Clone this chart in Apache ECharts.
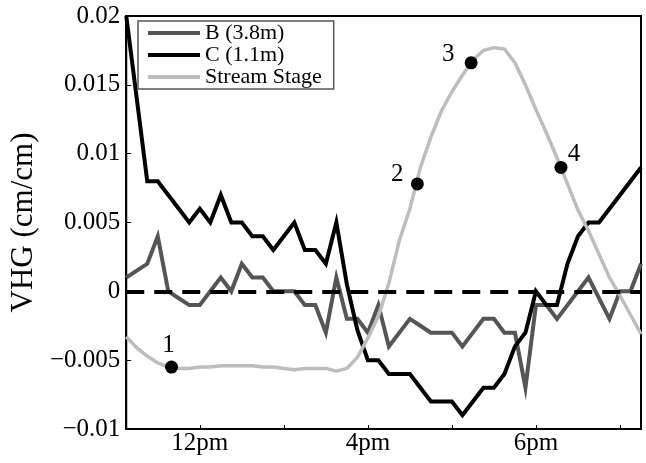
<!DOCTYPE html>
<html>
<head>
<meta charset="utf-8">
<script src="https://cdn.jsdelivr.net/npm/echarts@6/dist/echarts.min.js"></script>
<style>
  html, body { margin: 0; padding: 0; background: #ffffff; }
  #chart { width: 646px; height: 463px; }
</style>
</head>
<body>
<div id="chart"></div>
<script>
// Sample index: one reading every 15 minutes
const sampleIndex = Array.from({ length: 50 }, (_, i) => i);

// Vertical hydraulic gradient, piezometer B (3.8 m)
const vhgB = [
  0.001, 0.0015, 0.002, 0.004, 0, -0.0005, -0.001, -0.001, 0, 0.001,
  0, 0.002, 0.001, 0.001, 0, 0, 0, -0.001, -0.001, -0.003,
  0.001, -0.002, -0.002, -0.003, -0.001, -0.004, -0.003, -0.002, -0.0025, -0.003,
  -0.003, -0.003, -0.004, -0.003, -0.002, -0.002, -0.003, -0.003, -0.007, -0.001,
  -0.001, -0.002, -0.001, 0, 0.001, -0.0005, -0.002, 0, 0, 0.002
];

// Vertical hydraulic gradient, piezometer C (1.1 m)
const vhgC = [
  0.02, 0.014, 0.008, 0.008, 0.007, 0.006, 0.005, 0.006, 0.005, 0.007,
  0.005, 0.005, 0.004, 0.004, 0.003, 0.004, 0.005, 0.003, 0.003, 0.002,
  0.005, 0.0005, -0.0028, -0.005, -0.005, -0.006, -0.006, -0.006, -0.007, -0.008,
  -0.008, -0.008, -0.009, -0.008, -0.007, -0.007, -0.006, -0.004, -0.003, 0,
  -0.001, -0.001, 0.002, 0.004, 0.005, 0.005, 0.006, 0.007, 0.008, 0.009
];

// Stream stage, plotted on the same scale
const streamStage = [
  -0.0033, -0.0041, -0.0047, -0.0052, -0.0055, -0.0056, -0.0056, -0.0055, -0.0055, -0.0054,
  -0.0054, -0.0054, -0.0054, -0.0055, -0.0055, -0.0056, -0.0057, -0.0056, -0.0056, -0.0056,
  -0.0058, -0.0056, -0.0048, -0.0034, -0.0018, 0.0006, 0.0037, 0.0060, 0.0090, 0.0112,
  0.0131, 0.0145, 0.0157, 0.0168, 0.0175, 0.0177, 0.0176, 0.0166, 0.0150, 0.0132,
  0.0115, 0.0097, 0.0078, 0.0059, 0.0044, 0.0027, 0.0010, -0.0003, -0.0017, -0.0031
];

// Numbered sampling moments on the stage curve
const markerIndex = [4.31, 27.71, 32.83, 41.38];
const markerValue = [-0.0055, 0.0078, 0.0166, 0.0090];
const markerLabels = ['1', '2', '3', '4'];

// Axis ticks
const xTickPos = [7, 15, 23, 31, 39, 47];
const xTickLabels = ['12pm', '', '4pm', '', '6pm', ''];
const yTickValues = [-0.01, -0.005, 0, 0.005, 0.01, 0.015, 0.02];
const yTickLabels = ['\u22120.01', '\u22120.005', '0', '0.005', '0.01', '0.015', '0.02'];
const zeroLevel = 0;

const seriesNames = ['B (3.8m)', 'C (1.1m)', 'Stream Stage'];

// label placement around each marker: [dx, dy]
const labelOffsets = [[-3, -22], [-20, -10], [-23, -8], [13, -13]];

const FONT = 'Liberation Serif';

function pairs(ys) {
  return ys.map((y, i) => [sampleIndex[i], y]);
}

const chart = echarts.init(document.getElementById('chart'), null, { renderer: 'canvas' });

const option = {
  backgroundColor: '#ffffff',
  animation: false,
  textStyle: { fontFamily: FONT },
  grid: {
    left: 121, right: 5, top: 16, bottom: 34,
    show: true, borderColor: '#000', borderWidth: 2, backgroundColor: 'transparent'
  },
  legend: {
    data: seriesNames,
    orient: 'vertical',
    left: 138, top: 21,
    icon: 'rect',
    itemWidth: 52, itemHeight: 4,
    itemGap: 0,
    padding: [1, 12, 1, 10],
    borderColor: '#555',
    borderWidth: 1.5,
    backgroundColor: '#fff',
    textStyle: { fontFamily: FONT, fontSize: 22, color: '#000', lineHeight: 22 }
  },
  xAxis: {
    type: 'value',
    min: 0,
    max: sampleIndex[sampleIndex.length - 1],
    splitLine: { show: false },
    axisLine: { show: true, onZero: false, lineStyle: { color: '#000', width: 2 } },
    axisTick: {
      show: true, inside: true, length: 4,
      customValues: xTickPos,
      lineStyle: { color: '#000', width: 1 }
    },
    axisLabel: {
      customValues: xTickPos.filter((_, i) => xTickLabels[i] !== ''),
      formatter: v => xTickLabels[xTickPos.indexOf(v)] || '',
      fontFamily: FONT, fontSize: 25, color: '#000', margin: 2
    }
  },
  yAxis: {
    type: 'value',
    min: yTickValues[0],
    max: yTickValues[yTickValues.length - 1],
    interval: 0.005,
    name: 'VHG (cm/cm)',
    nameLocation: 'middle',
    nameGap: 76,
    nameTextStyle: { fontFamily: FONT, fontSize: 31, color: '#000' },
    splitLine: { show: false },
    axisLine: { show: true, onZero: false, lineStyle: { color: '#000', width: 2 } },
    axisTick: { show: true, inside: true, length: 5, lineStyle: { color: '#000', width: 1 } },
    axisLabel: {
      formatter: v => {
        const k = Math.round((v - yTickValues[0]) / 0.005);
        return yTickLabels[k] !== undefined ? yTickLabels[k] : '';
      },
      fontFamily: FONT, fontSize: 25, color: '#000', margin: 6
    }
  },
  series: [
    {
      name: seriesNames[0],
      type: 'line',
      data: pairs(vhgB),
      color: '#555555',
      showSymbol: false,
      lineStyle: { color: '#555555', width: 4, join: 'miter' },
      z: 2
    },
    {
      name: seriesNames[1],
      type: 'line',
      data: pairs(vhgC),
      color: '#000000',
      showSymbol: false,
      lineStyle: { color: '#000000', width: 4, join: 'miter' },
      z: 3
    },
    {
      name: seriesNames[2],
      type: 'line',
      data: pairs(streamStage),
      color: '#bdbdbd',
      showSymbol: false,
      lineStyle: { color: '#bdbdbd', width: 3.5 },
      z: 4,
      markLine: {
        silent: true,
        symbol: 'none',
        z: 5,
        label: { show: false },
        lineStyle: { color: '#000', width: 4, type: [18, 10] },
        data: [{ yAxis: zeroLevel }]
      }
    },
    {
      name: 'markers',
      type: 'scatter',
      data: markerIndex.map((x, i) => ({
        value: [x, markerValue[i]],
        label: {
          show: true,
          formatter: markerLabels[i],
          position: 'inside',
          offset: labelOffsets[i],
          color: '#000'
        }
      })),
      symbol: 'circle',
      symbolSize: 13,
      itemStyle: { color: '#000', opacity: 1 },
      label: {
        show: true,
        fontFamily: FONT, fontSize: 25, color: '#000',
        align: 'center', verticalAlign: 'middle'
      },
      z: 6
    }
  ]
};

chart.setOption(option);
</script>
</body>
</html>
